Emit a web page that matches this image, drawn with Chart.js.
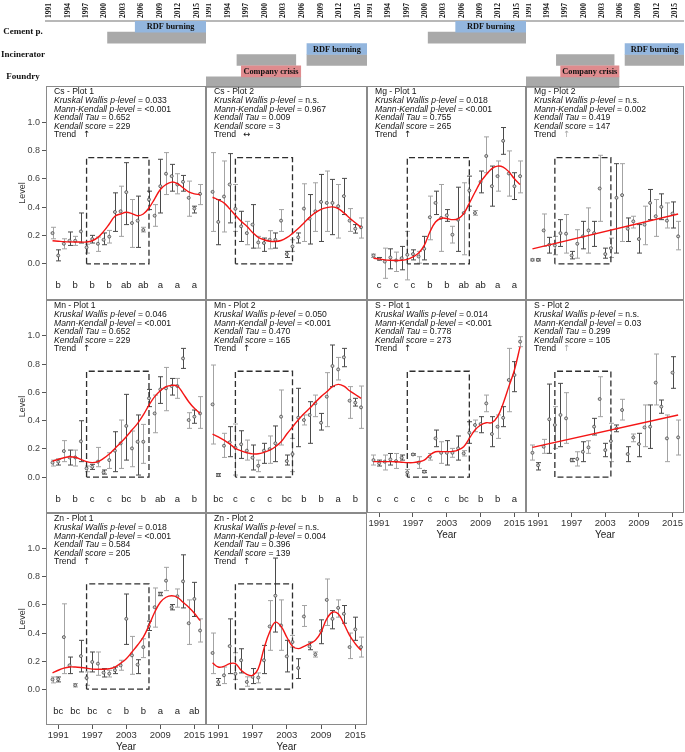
<!DOCTYPE html>
<html>
<head>
<meta charset="utf-8">
<title>Element trends</title>
<script src="https://cdn.jsdelivr.net/npm/chart.js@4.4.1/dist/chart.umd.min.js"></script>
<style>
html,body{margin:0;padding:0;background:#fff;}
#fig{position:relative;width:685px;height:752px;overflow:hidden;background:#fff;}
#fig canvas{position:absolute;}
</style>
</head>
<body>
<div id="fig"></div>
<script>
// ================= DATA =================
const years = [1990,1991,1992,1993,1994,1995,1996,1997,1998,1999,2000,2001,2002,2003,2004,2005,2006,2007,2008,2009,2010,2011,2012,2013,2014,2015,2016];
const letterYears = [1991,1994,1997,2000,2003,2006,2009,2012,2015];
const levelTicks = [0, 0.2, 0.4, 0.6, 0.8, 1.0];
const yearTicks = [1991, 1997, 2003, 2009, 2015];
const headerTicks = [1991,1994,1997,2000,2003,2006,2009,2012,2015];
const trendYears = [1990, 2016];

// dashed windows [startYear, endYear], levels [bottom, top]
const plot1Window = [1996, 2007];
const plot2Window = [1994, 2004];
const windowLevels = [0, 0.75];

// header timelines
const headerRows = ['Cement p.', 'Incinerator', 'Foundry'];
const plot1Periods = [['Cement p.', 2000, 2016]];
const plot1Events  = [['Cement p.', 2004.5, 2016, 'RDF burning']];
const plot2Periods = [['Incinerator', 1995, 2004.5], ['Incinerator', 2006.3, 2016], ['Foundry', 1990, 2005.3]];
const plot2Events  = [['Incinerator', 2006.3, 2016, 'RDF burning'], ['Foundry', 1995.7, 2005.3, 'Company crisis']];

// ---- Cs ----
const cs1Stats = ['0.033', '<0.001', '0.652', '229'];
const cs1Mean = [0.217,0.059,0.142,0.163,0.163,0.229,0.116,0.175,0.142,0.170,0.192,0.366,0.371,0.506,0.288,0.305,0.239,0.454,0.340,0.548,0.636,0.619,0.560,0.579,0.466,0.390,0.494];
const cs1Hi   = [0.258,0.099,0.177,0.225,0.194,0.359,0.139,0.201,0.189,0.218,0.236,0.501,0.548,0.714,0.454,0.478,0.258,0.513,0.418,0.738,0.785,0.702,0.636,0.624,0.584,0.407,0.560];
const cs1Lo   = [0.177,0.021,0.106,0.130,0.130,0.147,0.076,0.147,0.088,0.135,0.147,0.229,0.194,0.277,0.116,0.116,0.225,0.383,0.265,0.359,0.489,0.513,0.494,0.513,0.336,0.359,0.418];
const cs1Fit  = [0.163,0.160,0.157,0.155,0.154,0.154,0.154,0.163,0.187,0.229,0.281,0.336,0.352,0.364,0.355,0.340,0.352,0.395,0.459,0.525,0.560,0.577,0.567,0.537,0.508,0.494,0.489];
const cs1Letters = ['b','b','b','b','ab','ab','a','a','a'];

const cs2Stats = ['n.s.', '0.967', '0.009', '3'];
const cs2Mean = [0.508,0.296,0.475,0.560,0.388,0.265,0.217,0.277,0.151,0.147,0.170,0.170,0.305,0.069,0.123,0.187,0.390,0.319,0.371,0.437,0.430,0.430,0.407,0.478,0.305,0.248,0.258];
const cs2Hi   = [0.785,0.454,0.726,0.778,0.560,0.371,0.300,0.418,0.194,0.182,0.234,0.218,0.383,0.088,0.170,0.218,0.565,0.489,0.572,0.631,0.655,0.596,0.560,0.603,0.390,0.277,0.324];
const cs2Lo   = [0.229,0.135,0.225,0.289,0.229,0.158,0.135,0.111,0.111,0.088,0.106,0.111,0.229,0.045,0.088,0.147,0.158,0.140,0.229,0.158,0.229,0.206,0.182,0.348,0.229,0.217,0.182];
const cs2Fit  = [0.470,0.452,0.430,0.388,0.343,0.300,0.265,0.222,0.187,0.170,0.160,0.158,0.165,0.185,0.215,0.250,0.289,0.328,0.362,0.385,0.397,0.402,0.390,0.360,0.324,0.290,0.258];

// ---- Mg ----
const mg1Stats = ['0.018', '<0.001', '0.755', '265'];
const mg1Mean = [0.059,0.035,0.016,0.045,0.024,0.040,0.064,0.069,0.052,0.106,0.329,0.430,0.324,0.343,0.206,0.312,0.359,0.518,0.359,0.579,0.761,0.548,0.619,0.868,0.638,0.548,0.619];
const mg1Hi   = [0.069,0.045,0.111,0.106,0.083,0.123,0.229,0.099,0.088,0.194,0.478,0.513,0.560,0.383,0.265,0.541,0.572,0.619,0.376,0.655,0.896,0.690,0.726,0.962,0.797,0.643,0.726];
const mg1Lo   = [0.045,0.026,-0.102,-0.035,-0.054,-0.042,-0.113,0.028,0.005,0.028,0.170,0.348,0.088,0.300,0.147,0.088,0.064,0.407,0.343,0.501,0.643,0.407,0.513,0.773,0.478,0.454,0.501];
const mg1Fit  = [0.040,0.035,0.028,0.025,0.024,0.025,0.032,0.050,0.076,0.130,0.225,0.295,0.322,0.320,0.312,0.318,0.355,0.428,0.505,0.578,0.630,0.672,0.690,0.683,0.650,0.600,0.560];
const mg1Letters = ['c','c','c','b','b','ab','ab','a','a'];

const mg2Stats = ['n.s.', '0.002', '0.419', '147'];
const mg2Mean = [0.028,0.028,0.236,0.135,0.130,0.217,0.213,0.059,0.142,0.194,0.236,0.217,0.532,0.069,0.111,0.466,0.485,0.248,0.300,0.175,0.277,0.430,0.336,0.402,0.305,0.355,0.194];
const mg2Hi   = [0.035,0.035,0.352,0.187,0.194,0.312,0.348,0.088,0.241,0.300,0.395,0.300,0.766,0.111,0.182,0.707,0.707,0.324,0.336,0.277,0.407,0.525,0.454,0.494,0.430,0.437,0.300];
const mg2Lo   = [0.021,0.021,0.123,0.076,0.064,0.123,0.076,0.035,0.040,0.106,0.076,0.123,0.300,0.040,0.045,0.076,0.158,0.158,0.253,0.076,0.135,0.312,0.194,0.312,0.253,0.253,0.099];
const mg2Trend = [0.106, 0.352];

// ---- Mn ----
const mn1Stats = ['0.046', '<0.001', '0.652', '229'];
const mn1Mean = [0.102,0.109,0.184,0.139,0.139,0.253,0.061,0.073,0.109,0.033,0.120,0.187,0.239,0.362,0.203,0.250,0.250,0.558,0.451,0.621,0.629,0.645,0.645,0.841,0.404,0.428,0.451];
const mn1Hi   = [0.120,0.127,0.258,0.191,0.191,0.399,0.078,0.090,0.210,0.050,0.172,0.321,0.404,0.586,0.326,0.440,0.373,0.621,0.581,0.711,0.777,0.699,0.699,0.912,0.456,0.475,0.570];
const mn1Lo   = [0.078,0.085,0.109,0.085,0.078,0.109,0.038,0.054,0.073,0.021,0.061,0.038,0.061,0.120,0.073,0.014,0.097,0.499,0.314,0.522,0.470,0.581,0.558,0.770,0.345,0.381,0.345];
const mn1Fit  = [0.113,0.125,0.137,0.144,0.140,0.125,0.109,0.102,0.109,0.132,0.163,0.203,0.243,0.286,0.333,0.380,0.440,0.510,0.570,0.612,0.641,0.650,0.645,0.593,0.534,0.487,0.451];
const mn1Letters = ['b','b','c','c','bc','b','ab','a','b'];

const mn2Stats = ['0.050', '<0.001', '0.470', '165'];
const mn2Mean = [0.515,0.014,0.222,0.246,0.208,0.232,0.187,0.137,0.080,0.187,0.198,0.239,0.428,0.113,0.163,0.421,0.404,0.440,0.522,0.385,0.570,0.787,0.763,0.849,0.541,0.527,0.494];
const mn2Hi   = [0.794,0.024,0.310,0.357,0.376,0.328,0.262,0.227,0.120,0.239,0.291,0.362,0.617,0.156,0.274,0.629,0.440,0.534,0.581,0.451,0.740,0.936,0.848,0.912,0.641,0.558,0.645];
const mn2Lo   = [0.234,0.005,0.139,0.144,0.014,0.132,0.120,0.050,0.038,0.097,0.097,0.109,0.227,0.085,0.038,0.215,0.369,0.239,0.428,0.333,0.357,0.641,0.688,0.782,0.416,0.503,0.345];
const mn2Fit  = [0.305,0.285,0.262,0.235,0.203,0.185,0.172,0.164,0.165,0.175,0.190,0.215,0.250,0.305,0.355,0.404,0.448,0.487,0.530,0.570,0.605,0.641,0.657,0.645,0.612,0.585,0.558];
const mn2Letters = ['bc','c','c','c','bc','b','b','a','b'];

// ---- S ----
const s1Stats = ['0.014', '<0.001', '0.778', '273'];
const s1Mean = [0.120,0.097,0.109,0.125,0.113,0.137,0.033,0.160,0.102,0.038,0.144,0.274,0.172,0.172,0.172,0.203,0.168,0.314,0.369,0.376,0.522,0.305,0.357,0.420,0.688,0.723,0.960];
const s1Hi   = [0.156,0.120,0.156,0.167,0.167,0.156,0.054,0.165,0.144,0.045,0.167,0.333,0.250,0.258,0.203,0.291,0.187,0.392,0.404,0.428,0.581,0.428,0.440,0.499,0.912,0.818,0.995];
const s1Lo   = [0.085,0.078,0.050,0.085,0.061,0.120,0.014,0.155,0.061,0.031,0.120,0.215,0.097,0.085,0.140,0.120,0.149,0.239,0.321,0.314,0.463,0.215,0.274,0.357,0.463,0.605,0.924];
const s1Fit  = [0.109,0.109,0.109,0.109,0.108,0.105,0.102,0.102,0.108,0.120,0.156,0.179,0.180,0.180,0.182,0.191,0.215,0.274,0.333,0.369,0.385,0.385,0.428,0.522,0.641,0.759,0.924];
const s1Letters = ['c','c','c','c','c','bc','b','b','a'];

const s2Stats = ['n.s.', '0.03', '0.299', '105'];
const s2Mean = [0.172,0.083,0.215,0.409,0.369,0.440,0.416,0.120,0.128,0.179,0.210,0.357,0.553,0.191,0.255,0.345,0.475,0.163,0.281,0.234,0.352,0.357,0.669,0.499,0.274,0.740,0.281];
const s2Hi   = [0.227,0.102,0.267,0.659,0.499,0.664,0.598,0.132,0.179,0.250,0.257,0.416,0.711,0.239,0.381,0.369,0.551,0.215,0.305,0.310,0.511,0.511,0.872,0.546,0.440,0.853,0.404];
const s2Lo   = [0.120,0.050,0.168,0.168,0.203,0.215,0.239,0.109,0.078,0.109,0.168,0.298,0.428,0.144,0.109,0.321,0.404,0.109,0.250,0.144,0.215,0.203,0.511,0.452,0.109,0.629,0.156];
const s2Trend = [0.210, 0.440];

// ---- Zn ----
const zn1Stats = ['0.018', '<0.001', '0.584', '205'];
const zn1Mean = [0.069,0.071,0.371,0.170,0.028,0.236,0.080,0.194,0.182,0.118,0.111,0.135,0.170,0.501,0.241,0.175,0.300,0.447,0.584,0.678,0.773,0.584,0.662,0.768,0.470,0.643,0.418];
const zn1Hi   = [0.087,0.087,0.608,0.229,0.040,0.348,0.123,0.265,0.265,0.147,0.135,0.158,0.206,0.678,0.376,0.210,0.359,0.485,0.721,0.690,0.868,0.603,0.714,0.957,0.636,0.761,0.501];
const zn1Lo   = [0.045,0.052,0.111,0.111,0.016,0.123,0.028,0.123,0.099,0.087,0.087,0.111,0.135,0.319,0.106,0.111,0.225,0.418,0.442,0.666,0.702,0.565,0.584,0.579,0.319,0.518,0.336];
const zn1Fit  = [0.116,0.135,0.150,0.158,0.158,0.155,0.150,0.143,0.142,0.142,0.146,0.158,0.185,0.217,0.265,0.315,0.371,0.454,0.548,0.619,0.655,0.666,0.655,0.619,0.584,0.541,0.489];
const zn1Letters = ['bc','bc','bc','c','b','b','a','a','ab'];

const zn2Stats = ['n.s.', '0.004', '0.396', '139'];
const zn2Mean = [0.258,0.052,0.099,0.307,0.110,0.206,0.052,0.088,0.083,0.206,0.447,0.666,0.454,0.234,0.336,0.151,0.518,0.305,0.248,0.414,0.636,0.501,0.579,0.537,0.300,0.426,0.300];
const zn2Hi   = [0.400,0.076,0.158,0.501,0.260,0.288,0.088,0.147,0.116,0.312,0.631,0.934,0.636,0.348,0.383,0.217,0.596,0.336,0.265,0.494,0.785,0.560,0.636,0.596,0.400,0.513,0.371];
const zn2Lo   = [0.111,0.028,0.040,0.111,0.070,0.116,0.021,0.040,0.045,0.111,0.277,0.407,0.277,0.123,0.300,0.076,0.447,0.281,0.229,0.324,0.454,0.430,0.513,0.470,0.218,0.348,0.229];
const zn2Fit  = [0.187,0.158,0.163,0.182,0.182,0.135,0.106,0.099,0.146,0.289,0.407,0.477,0.447,0.371,0.305,0.289,0.305,0.324,0.348,0.407,0.501,0.548,0.537,0.466,0.383,0.324,0.277];

const statLabels = ['Kruskal Wallis p-level', 'Mann-Kendall p-level', 'Kendall Tau', 'Kendall score'];

// ================= LAYOUT & STYLE =================
const SANS = '"Liberation Sans", Arial, Helvetica, sans-serif';
const SERIF = '"Liberation Serif", "Times New Roman", serif';
const COLS = [[46, 206], [206, 367], [367, 526], [526, 684]];
const ROWS = [[86, 300], [300, 513], [513, 725]];
const X_MIN = 1988.85, X_MAX = 2017.05, Y_MIN = -0.255, Y_MAX = 1.255;
const HX_MIN = 1990, HX_MAX = 2016;
const Y_AXIS_W = 33, X_AXIS_H = 32, HEADER_H = 88, HEADER_AXIS_H = 21;
const LETTER_LEVEL = -0.155;
const STYLE = {
  red: '#f41515', errDark: '#4a4a4a', errLight: '#a3a3a3', frame: '#8a8a8a',
  text: '#141414', muted: '#a8a8a8', gray: '#a9a9a9',
  events: { 'RDF burning': '#93b6de', 'Company crisis': '#df8b8e' }
};

const fig = document.getElementById('fig');
function addCanvas(left, top, w, h) {
  const c = document.createElement('canvas');
  c.width = w; c.height = h;
  c.style.left = left + 'px'; c.style.top = top + 'px';
  c.style.width = w + 'px'; c.style.height = h + 'px';
  fig.appendChild(c);
  return c;
}
function zeroPad(s) { s.paddingLeft = 0; s.paddingRight = 0; s.paddingTop = 0; s.paddingBottom = 0; }
function fixWidth(w) { return s => { if (s.options.display) { s.width = w; } zeroPad(s); }; }
function fixHeight(h) { return s => { if (s.options.display) { s.height = h; } zeroPad(s); }; }

// ================= HEADER =================
function makeHeader(col, periods, events) {
  const showY = col === 0;
  const [cl, cr] = COLS[col];
  const left = showY ? 0 : cl;
  const cv = addCanvas(left, 0, cr - left, HEADER_H);
  const rowOf = name => headerRows.indexOf(name) + 1;
  new Chart(cv, {
    type: 'bar',
    data: {
      datasets: [
        { data: events.map(e => ({ x: [e[1], e[2]], y: rowOf(e[0]) })),
          backgroundColor: events.map(e => STYLE.events[e[3]]), borderWidth: 0, barThickness: 11 },
        { data: periods.map(p => ({ x: [p[1], p[2]], y: rowOf(p[0]) })),
          backgroundColor: STYLE.gray, borderWidth: 0, barThickness: 11 }
      ]
    },
    options: {
      indexAxis: 'y', responsive: false, animation: false, devicePixelRatio: 1,
      layout: { padding: 0, autoPadding: false },
      plugins: { legend: { display: false }, tooltip: { enabled: false } },
      scales: {
        x: {
          type: 'linear', position: 'top', min: HX_MIN, max: HX_MAX, beginAtZero: false,
          afterBuildTicks: s => { s.ticks = headerTicks.map(v => ({ value: v })); },
          afterFit: fixHeight(HEADER_AXIS_H),
          ticks: { autoSkip: false, minRotation: 90, maxRotation: 90, padding: 3, labelOffset: 6, color: '#111',
                   font: { family: SERIF, weight: 'bold', size: 7.5 }, callback: v => String(v) },
          grid: { display: false, drawTicks: false },
          border: { display: true, color: '#b8b8b8', width: 2 }
        },
        y: {
          type: 'linear', display: showY, min: 0.5, max: 3.5, reverse: true, offset: false,
          afterBuildTicks: s => { s.ticks = headerRows.map((r, i) => ({ value: i + 1 })); },
          afterFit: fixWidth(46),
          ticks: { autoSkip: false, crossAlign: 'center', padding: 1, color: '#111',
                   font: { family: SERIF, weight: 'bold', size: 9 }, callback: v => headerRows[v - 1] },
          grid: { display: false, drawTicks: false },
          border: { display: false }
        }
      }
    },
    plugins: [{
      id: 'barLabels',
      afterDatasetsDraw(chart) {
        const ctx = chart.ctx;
        const meta = chart.getDatasetMeta(0);
        ctx.save();
        ctx.font = 'bold 8.3px ' + SERIF; ctx.fillStyle = '#111';
        ctx.textAlign = 'center'; ctx.textBaseline = 'middle';
        meta.data.forEach((bar, i) => {
          const p = bar.getProps(['x', 'base', 'y'], true);
          ctx.fillText(events[i][3], (p.x + p.base) / 2, p.y + 0.5);
        });
        ctx.restore();
      }
    }]
  });
}

// ================= PANELS =================
function makePanel(p) {
  const [cl, cr] = COLS[p.col];
  const [rt, rb] = ROWS[p.row];
  const showY = p.col === 0;
  const showX = !!p.xAxis;
  const left = showY ? cl - Y_AXIS_W : cl;
  const cv = addCanvas(left, rt, cr - left, rb - rt + (showX ? X_AXIS_H : 0));

  const fitData = p.trend2
    ? trendYears.map((yr, i) => ({ x: yr, y: p.trend2[i] }))
    : years.map((yr, i) => ({ x: yr, y: p.fit[i] }));
  const w = p.window;
  const boxData = [
    { x: w[0], y: windowLevels[0] }, { x: w[0], y: windowLevels[1] },
    { x: w[1], y: windowLevels[1] }, { x: w[1], y: windowLevels[0] },
    { x: w[0], y: windowLevels[0] }
  ];

  const font = { family: SANS, size: 9 };
  new Chart(cv, {
    type: 'line',
    data: {
      datasets: [
        { data: fitData, borderColor: STYLE.red, borderWidth: 1.4, pointRadius: 0, tension: p.trend2 ? 0 : 0.4, fill: false, order: 0 },
        { data: years.map((yr, i) => ({ x: yr, y: p.mean[i] })), showLine: false, pointRadius: 1.5,
          pointBorderWidth: 0.8, pointBorderColor: '#4a4a4a', pointBackgroundColor: '#cfcfcf', order: 1 },
        { data: boxData, borderColor: '#2e2e2e', borderWidth: 1.3, borderDash: [6, 3], pointRadius: 0, tension: 0, fill: false, order: 2 }
      ]
    },
    options: {
      responsive: false, animation: false, devicePixelRatio: 1,
      layout: { padding: 0, autoPadding: false },
      plugins: { legend: { display: false }, tooltip: { enabled: false } },
      scales: {
        x: {
          type: 'linear', display: showX, position: 'bottom', min: X_MIN, max: X_MAX,
          afterBuildTicks: s => { s.ticks = yearTicks.map(v => ({ value: v })); },
          afterFit: fixHeight(X_AXIS_H),
          ticks: { autoSkip: false, maxRotation: 0, padding: 1, color: '#333', font: { family: SANS, size: 9.5 }, callback: v => String(v) },
          grid: { display: true, drawOnChartArea: false, drawTicks: true, tickLength: 4, tickColor: '#555' },
          border: { display: false },
          title: { display: true, text: 'Year', color: '#222', font: { family: SANS, size: 10 }, padding: { top: 0, bottom: 4 } }
        },
        y: {
          type: 'linear', display: showY, min: Y_MIN, max: Y_MAX,
          afterBuildTicks: s => { s.ticks = levelTicks.map(v => ({ value: v })); },
          afterFit: fixWidth(Y_AXIS_W),
          ticks: { autoSkip: false, padding: 2, color: '#444', font: font, callback: v => v.toFixed(1) },
          grid: { display: true, drawOnChartArea: false, drawTicks: true, tickLength: 4, tickColor: '#555' },
          border: { display: false },
          title: { display: true, text: 'Level', color: '#333', font: font, padding: { top: 4, bottom: 0 } }
        }
      }
    },
    plugins: [{
      id: 'errorBars',
      beforeDatasetsDraw(chart) {
        const { ctx, chartArea: a, scales: { x, y } } = chart;
        ctx.save();
        ctx.beginPath(); ctx.rect(a.left, a.top, a.width, a.height); ctx.clip();
        ctx.lineWidth = 1;
        years.forEach((yr, i) => {
          const px = Math.round(x.getPixelForValue(yr)) + 0.5;
          const yl = y.getPixelForValue(p.lo[i]);
          const yh = y.getPixelForValue(p.hi[i]);
          ctx.strokeStyle = i % 2 ? STYLE.errDark : STYLE.errLight;
          ctx.beginPath();
          ctx.moveTo(px, yl); ctx.lineTo(px, yh);
          ctx.moveTo(px - 2.5, yl); ctx.lineTo(px + 2.5, yl);
          ctx.moveTo(px - 2.5, yh); ctx.lineTo(px + 2.5, yh);
          ctx.stroke();
        });
        ctx.restore();
      },
      afterDatasetsDraw(chart) {
        if (!p.letters) return;
        const { ctx, scales: { x, y } } = chart;
        ctx.save();
        ctx.font = '9.5px ' + SANS; ctx.fillStyle = '#222';
        ctx.textAlign = 'center'; ctx.textBaseline = 'middle';
        p.letters.forEach((l, i) => ctx.fillText(l, x.getPixelForValue(letterYears[i]), y.getPixelForValue(LETTER_LEVEL)));
        ctx.restore();
      },
      afterDraw(chart) {
        const { ctx, chartArea: a } = chart;
        ctx.save();
        ctx.strokeStyle = STYLE.frame; ctx.lineWidth = 1;
        ctx.strokeRect(a.left + 0.5, a.top + 0.5, a.width - 1, a.height - 1);
        // statistics block
        const x0 = a.left + 8, y0 = a.top + 6, lh = 8.6;
        ctx.fillStyle = STYLE.text; ctx.textAlign = 'left'; ctx.textBaseline = 'middle';
        ctx.font = '8.6px ' + SANS;
        ctx.fillText(p.name, x0, y0);
        statLabels.forEach((lab, i) => {
          const yy = y0 + (i + 1) * lh;
          ctx.font = 'italic 8.6px ' + SANS;
          ctx.fillText(lab, x0, yy);
          const wl = ctx.measureText(lab).width;
          ctx.font = '8.6px ' + SANS;
          ctx.fillText(' = ' + p.stats[i], x0 + wl, yy);
        });
        const yt = y0 + 5 * lh;
        ctx.fillText('Trend', x0, yt);
        ctx.fillStyle = p.muted ? STYLE.muted : STYLE.text;
        ctx.font = '8.6px "DejaVu Sans", ' + SANS;
        ctx.fillText(p.arrow, x0 + 29, yt);
        ctx.restore();
      }
    }]
  });
}

// ================= BUILD =================
makeHeader(0, plot1Periods, plot1Events);
makeHeader(1, plot2Periods, plot2Events);
makeHeader(2, plot1Periods, plot1Events);
makeHeader(3, plot2Periods, plot2Events);

const panels = [
  { name: 'Cs - Plot 1', col: 0, row: 0, stats: cs1Stats, arrow: '\u2191', mean: cs1Mean, lo: cs1Lo, hi: cs1Hi, fit: cs1Fit, letters: cs1Letters, window: plot1Window },
  { name: 'Cs - Plot 2', col: 1, row: 0, stats: cs2Stats, arrow: '\u2194', mean: cs2Mean, lo: cs2Lo, hi: cs2Hi, fit: cs2Fit, letters: null, window: plot2Window },
  { name: 'Mg - Plot 1', col: 2, row: 0, stats: mg1Stats, arrow: '\u2191', mean: mg1Mean, lo: mg1Lo, hi: mg1Hi, fit: mg1Fit, letters: mg1Letters, window: plot1Window },
  { name: 'Mg - Plot 2', col: 3, row: 0, stats: mg2Stats, arrow: '\u2191', muted: true, mean: mg2Mean, lo: mg2Lo, hi: mg2Hi, trend2: mg2Trend, letters: null, window: plot2Window },
  { name: 'Mn - Plot 1', col: 0, row: 1, stats: mn1Stats, arrow: '\u2191', mean: mn1Mean, lo: mn1Lo, hi: mn1Hi, fit: mn1Fit, letters: mn1Letters, window: plot1Window },
  { name: 'Mn - Plot 2', col: 1, row: 1, stats: mn2Stats, arrow: '\u2191', mean: mn2Mean, lo: mn2Lo, hi: mn2Hi, fit: mn2Fit, letters: mn2Letters, window: plot2Window },
  { name: 'S - Plot 1', col: 2, row: 1, xAxis: true, stats: s1Stats, arrow: '\u2191', mean: s1Mean, lo: s1Lo, hi: s1Hi, fit: s1Fit, letters: s1Letters, window: plot1Window },
  { name: 'S - Plot 2', col: 3, row: 1, xAxis: true, stats: s2Stats, arrow: '\u2191', muted: true, mean: s2Mean, lo: s2Lo, hi: s2Hi, trend2: s2Trend, letters: null, window: plot2Window },
  { name: 'Zn - Plot 1', col: 0, row: 2, xAxis: true, stats: zn1Stats, arrow: '\u2191', mean: zn1Mean, lo: zn1Lo, hi: zn1Hi, fit: zn1Fit, letters: zn1Letters, window: plot1Window },
  { name: 'Zn - Plot 2', col: 1, row: 2, xAxis: true, stats: zn2Stats, arrow: '\u2191', mean: zn2Mean, lo: zn2Lo, hi: zn2Hi, fit: zn2Fit, letters: null, window: plot2Window }
];
panels.forEach(makePanel);
</script>
</body>
</html>
